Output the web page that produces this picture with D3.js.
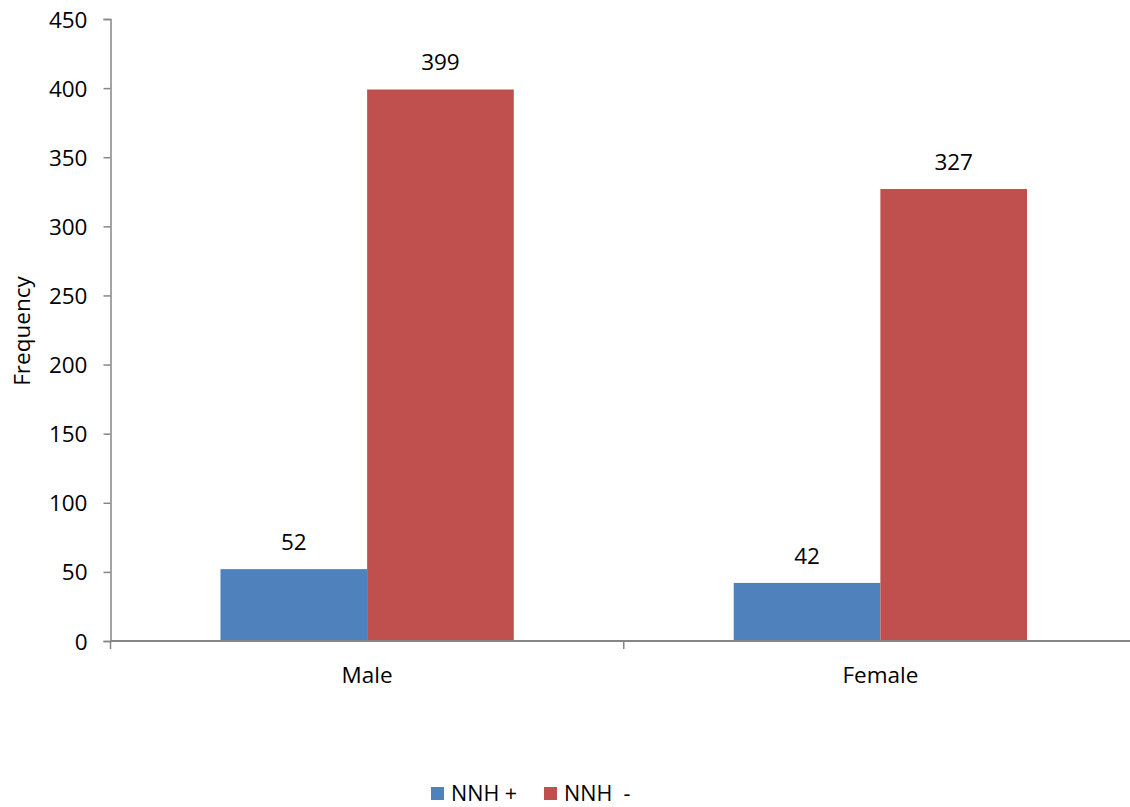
<!DOCTYPE html>
<html>
<head>
<meta charset="utf-8">
<script src="https://cdn.jsdelivr.net/npm/d3@7"></script>
<style>
  body { margin: 0; background: #fff; }
  svg text { font-family: "Open Sans", "Liberation Sans", sans-serif; fill: #000; }
</style>
</head>
<body>
<svg id="chart" width="1130" height="807"></svg>
<script>
// Frequency of NNH status by sex
const categories = ["Male", "Female"];
const seriesNames = ["NNH +", "NNH  -"];
const nnhPos = [52, 42];
const nnhNeg = [399, 327];
const yTicks = [0, 50, 100, 150, 200, 250, 300, 350, 400, 450];
const colors = ["#4F81BD", "#C0504D"];

const seriesValues = [nnhPos, nnhNeg];
const rows = categories.map((c, i) => ({
  category: c,
  values: seriesNames.map((s, j) => ({ series: s, idx: j, value: seriesValues[j][i] }))
}));

const svg = d3.select("#chart");
const plotLeft = 110.5, plotRight = 1137, plotTop = 19, plotBottom = 641;
const fontSize = 22.5;

const y = d3.scaleLinear().domain([0, 450]).range([plotBottom, plotTop]);
const x0 = d3.scaleBand().domain(categories).range([plotLeft, plotRight]).paddingInner(0).paddingOuter(0);
const gapRatio = 0.75;
const groupW = x0.bandwidth() / (1 + gapRatio);
const x1 = d3.scaleBand().domain(seriesNames)
  .range([(x0.bandwidth() - groupW) / 2, (x0.bandwidth() + groupW) / 2]).padding(0);

const axisColor = "#868686";

// bars
const groups = svg.append("g").selectAll("g").data(rows).join("g")
  .attr("transform", d => `translate(${x0(d.category)},0)`);

groups.selectAll("rect").data(d => d.values).join("rect")
  .attr("x", d => x1(d.series))
  .attr("y", d => y(d.value))
  .attr("width", x1.bandwidth())
  .attr("height", d => y(0) - y(d.value))
  .attr("fill", d => colors[d.idx]);

groups.selectAll("text").data(d => d.values).join("text")
  .attr("x", d => x1(d.series) + x1.bandwidth() / 2)
  .attr("y", d => y(d.value) - 19)
  .attr("text-anchor", "middle")
  .attr("font-size", fontSize)
  .text(d => d.value);

// y axis
const yAxis = d3.axisLeft(y).tickValues(yTicks).tickSize(7).tickPadding(16);
const gy = svg.append("g").attr("transform", `translate(${plotLeft},0)`).call(yAxis);
gy.select(".domain").attr("stroke", axisColor).attr("stroke-width", 1.5);
gy.selectAll(".tick line").attr("stroke", axisColor).attr("stroke-width", 1.5);
gy.selectAll(".tick text").attr("font-size", fontSize).attr("dy", "0.36em")
  .attr("font-family", "'Open Sans', 'Liberation Sans', sans-serif").attr("fill", "#000");

// x axis
svg.append("line")
  .attr("x1", plotLeft).attr("x2", plotRight).attr("y1", plotBottom).attr("y2", plotBottom)
  .attr("stroke", axisColor).attr("stroke-width", 2);
const bounds = categories.map(c => x0(c)).concat([x0(categories[categories.length - 1]) + x0.bandwidth()]);
svg.append("g").selectAll("line").data(bounds).join("line")
  .attr("x1", d => d).attr("x2", d => d)
  .attr("y1", plotBottom).attr("y2", plotBottom + 8)
  .attr("stroke", axisColor).attr("stroke-width", 1.5);
svg.append("g").selectAll("text").data(categories).join("text")
  .attr("x", d => x0(d) + x0.bandwidth() / 2)
  .attr("y", 683)
  .attr("text-anchor", "middle")
  .attr("font-size", fontSize)
  .text(d => d);

// y axis title
svg.append("text")
  .attr("transform", "translate(30,331) rotate(-90)")
  .attr("text-anchor", "middle")
  .attr("font-size", fontSize)
  .text("Frequency");

// legend
const legendItems = [{ name: seriesNames[0], x: 431 }, { name: seriesNames[1], x: 544 }];
const lg = svg.append("g").selectAll("g").data(legendItems).join("g")
  .attr("transform", d => `translate(${d.x},787)`);
lg.append("rect").attr("width", 13).attr("height", 13).attr("fill", (d, i) => colors[i]);
lg.append("text").attr("x", 20).attr("y", 14).attr("font-size", 21.5)
  .attr("xml:space", "preserve").style("white-space", "pre")
  .text(d => d.name);
</script>
</body>
</html>
